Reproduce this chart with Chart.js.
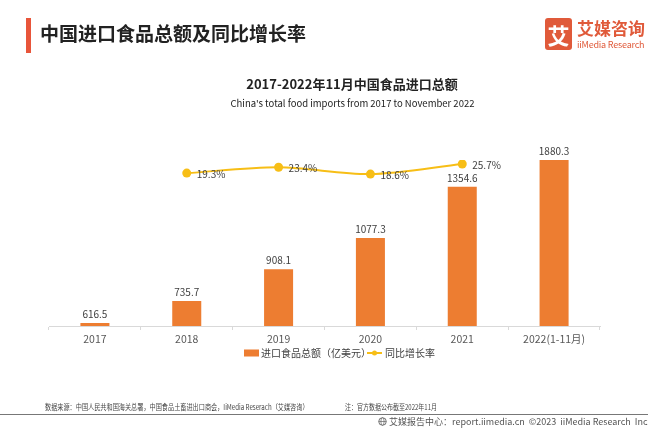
<!DOCTYPE html>
<html>
<head>
<meta charset="utf-8">
<script src="https://cdn.jsdelivr.net/npm/chart.js@4.4.0/dist/chart.umd.min.js"></script>
<style>
  html, body { margin: 0; padding: 0; background: #fff; }
  body { width: 660px; height: 429px; position: relative; overflow: hidden; font-family: "Noto Sans CJK SC", "Noto Sans", sans-serif; }
  #c { position: absolute; left: 0; top: 0; }
  .abs { position: absolute; white-space: nowrap; }
  .sq { transform-origin: left center; }
</style>
</head>
<body>
<canvas id="c" width="660" height="429"></canvas>

<div class="abs" style="left:26px;top:18px;width:5px;height:35px;background:#E8553A;"></div>
<div class="abs" style="left:40px;top:20px;font-size:19px;font-weight:bold;color:#222;line-height:26px;">中国进口食品总额及同比增长率</div>

<div class="abs" style="left:545px;top:18px;width:27px;height:32px;background:#E05A3A;border-radius:3px;color:#fff;font-size:22px;font-weight:bold;line-height:32px;text-align:center;">艾</div>
<div class="abs" style="left:577px;top:17px;font-size:17px;font-weight:bold;color:#E05A3A;line-height:22px;">艾媒咨询</div>
<div class="abs" style="left:577px;top:39px;font-size:9px;color:#E05A3A;line-height:11px;letter-spacing:-0.2px;">iiMedia Research</div>

<div class="abs" style="left:0;width:704px;top:74px;text-align:center;font-size:13px;font-weight:bold;color:#222;line-height:20px;">2017-2022年11月中国食品进口总额</div>
<div class="abs" style="left:0;width:705px;top:96px;text-align:center;font-size:9.5px;color:#222;line-height:14px;">China's total food imports from 2017 to November 2022</div>

<div class="abs sq" style="left:45px;top:401px;font-size:7.5px;color:#444;line-height:11px;transform:scaleX(0.82);">数据来源：中国人民共和国海关总署，中国食品土畜进出口商会，IiMedia Reserach（艾媒咨询）</div>
<div class="abs sq" style="left:345px;top:401px;font-size:7.5px;color:#444;line-height:11px;transform:scaleX(0.8);">注：官方数据公布截至2022年11月</div>
<div class="abs" style="left:0;top:414px;width:648px;height:1px;background:#777;"></div>
<div class="abs" style="left:378px;top:416px;font-size:9px;color:#555;line-height:12px;"><svg width="9" height="9" viewBox="0 0 10 10" style="vertical-align:-1px"><circle cx="5" cy="5" r="4.2" fill="none" stroke="#666" stroke-width="1"/><ellipse cx="5" cy="5" rx="1.8" ry="4.2" fill="none" stroke="#666" stroke-width="0.8"/><line x1="0.8" y1="5" x2="9.2" y2="5" stroke="#666" stroke-width="0.8"/></svg> 艾媒报告中心：report.iimedia.cn &nbsp;©2023 &nbsp;iiMedia Research &nbsp;Inc</div>

<script>
const categories = ['2017', '2018', '2019', '2020', '2021', '2022(1-11月)'];
const importTotals = [616.5, 735.7, 908.1, 1077.3, 1354.6, 1880.3];
const growthRates = [null, 19.3, 23.4, 18.6, 25.7, null];
const barLabel = '进口食品总额（亿美元）';
const lineLabel = '同比增长率';

const BAR_COLOR = '#ED7D31';
const LINE_COLOR = '#F7BE16';
const FONT = '"Noto Sans CJK SC", "Noto Sans", sans-serif';

const valueLabels = {
  id: 'valueLabels',
  afterDatasetsDraw(chart) {
    const ctx = chart.ctx;
    const area = chart.chartArea;
    ctx.save();
    ctx.font = '10px ' + FONT;
    ctx.fillStyle = '#404040';
    const barMeta = chart.getDatasetMeta(1);
    barMeta.data.forEach((el, i) => {
      const top = Math.max(el.y, area.top);
      ctx.textAlign = 'center';
      ctx.textBaseline = 'bottom';
      ctx.fillText(importTotals[i].toFixed(1), el.x, top - 4);
    });
    const lineMeta = chart.getDatasetMeta(0);
    lineMeta.data.forEach((el, i) => {
      if (growthRates[i] == null) return;
      ctx.textAlign = 'left';
      ctx.textBaseline = 'middle';
      ctx.fillText(growthRates[i].toFixed(1) + '%', el.x + 10, el.y + 1);
    });
    ctx.restore();
  },
  afterDraw(chart) {
    const ctx = chart.ctx;
    ctx.save();
    ctx.font = '10px ' + FONT;
    ctx.textBaseline = 'middle';
    ctx.textAlign = 'left';
    const y = 353;
    ctx.fillStyle = BAR_COLOR;
    ctx.fillRect(244, y - 3.5, 15, 7);
    ctx.fillStyle = '#404040';
    ctx.fillText(barLabel, 261, y);
    ctx.strokeStyle = LINE_COLOR;
    ctx.lineWidth = 2;
    ctx.beginPath();
    ctx.moveTo(367, y);
    ctx.lineTo(382, y);
    ctx.stroke();
    ctx.fillStyle = LINE_COLOR;
    ctx.beginPath();
    ctx.arc(374.5, y, 2.5, 0, Math.PI * 2);
    ctx.fill();
    ctx.fillStyle = '#404040';
    ctx.fillText(lineLabel, 385, y);
    ctx.restore();
  }
};

new Chart(document.getElementById('c'), {
  type: 'bar',
  data: {
    labels: categories,
    datasets: [
      {
        type: 'line',
        label: lineLabel,
        data: growthRates,
        yAxisID: 'y1',
        borderColor: LINE_COLOR,
        backgroundColor: LINE_COLOR,
        borderWidth: 2,
        pointRadius: 4.5,
        pointHoverRadius: 4.5,
        pointBackgroundColor: LINE_COLOR,
        pointBorderWidth: 0,
        tension: 0.3,
        spanGaps: false,
        order: 0
      },
      {
        type: 'bar',
        label: barLabel,
        data: importTotals,
        yAxisID: 'y',
        backgroundColor: BAR_COLOR,
        barPercentage: 0.316,
        categoryPercentage: 1,
        clip: 0,
        order: 1
      }
    ]
  },
  options: {
    responsive: false,
    animation: false,
    devicePixelRatio: 1,
    layout: { padding: { left: 49, right: 60, top: 160, bottom: 83 } },
    plugins: { legend: { display: false }, tooltip: { enabled: false }, title: { display: false } },
    scales: {
      x: {
        offset: true,
        grid: { display: true, offset: true, drawOnChartArea: false, drawTicks: true, tickLength: 4, color: '#d9d9d9' },
        border: { display: true, color: '#d9d9d9', width: 1 },
        ticks: { color: '#595959', font: { size: 10.5, family: FONT }, padding: 3, maxRotation: 0, autoSkip: false },
        afterFit(scale) { scale.height = 20; }
      },
      y: { display: false, min: 600, max: 1500 },
      y1: { display: false, min: -88, max: 28.5 }
    }
  },
  plugins: [valueLabels]
});
</script>
</body>
</html>
